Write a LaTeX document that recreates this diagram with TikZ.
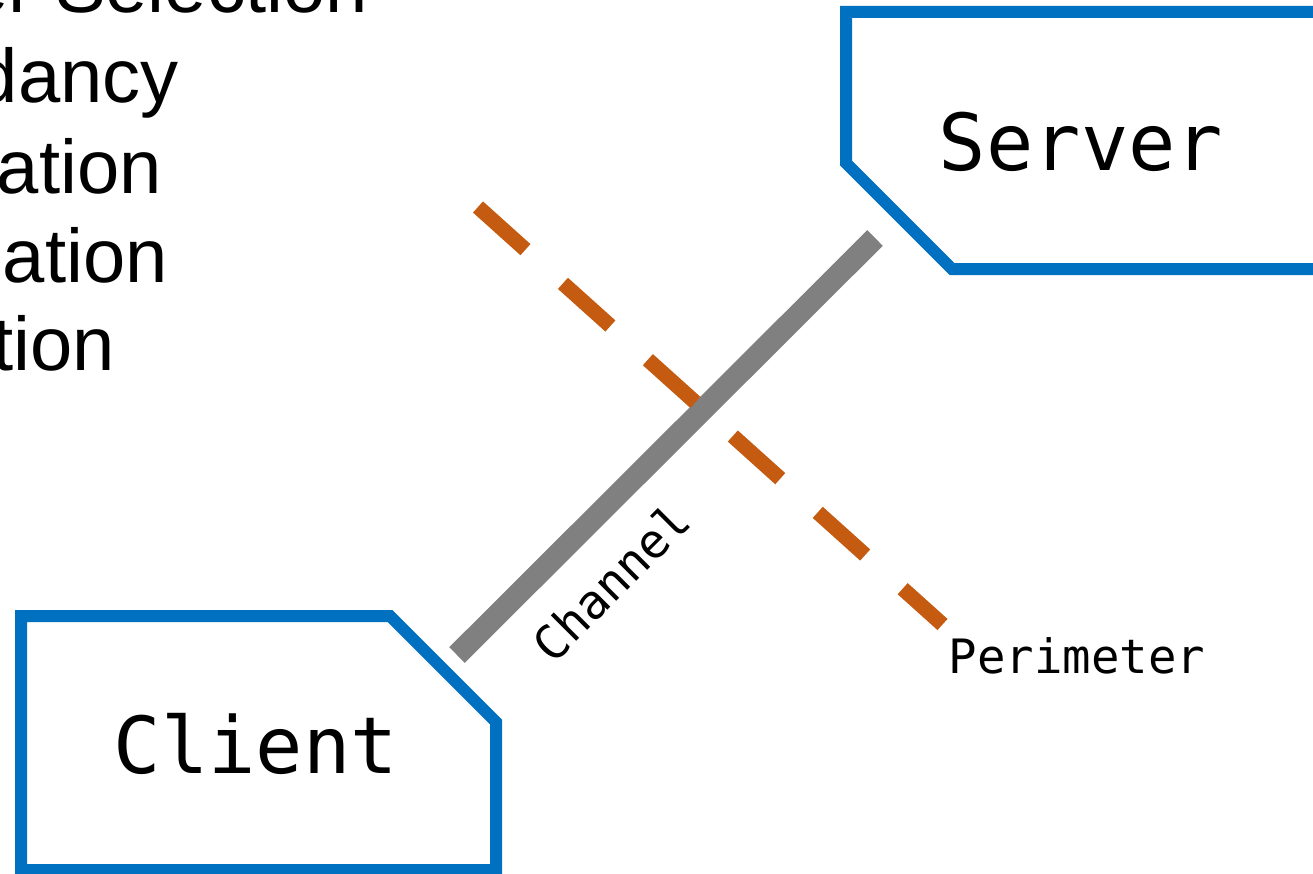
\documentclass[tikz,border=0pt]{standalone}
\usepackage{fontspec}
\setmainfont{Liberation Sans}
\newfontfamily\codefont{DejaVu Sans Mono}
\definecolor{boxblue}{HTML}{0070C0}
\definecolor{perimorange}{HTML}{C55A11}
\definecolor{changrey}{HTML}{808080}
\begin{document}
\begin{tikzpicture}[x=0.75pt,y=-0.75pt,
  endbox/.style={draw=boxblue,line width=9pt,line join=miter,fill=white},
  bigmono/.style={font=\codefont\fontsize{59pt}{60pt}\selectfont,inner sep=0pt,anchor=base},
  smallmono/.style={font=\codefont\fontsize{35.5pt}{36pt}\selectfont,inner sep=0pt},
  listtext/.style={font=\fontsize{57pt}{60pt}\selectfont,inner sep=0pt,anchor=base east},
  channel/.style={draw=changrey,line width=16.5pt},
  perimeter/.style={draw=perimorange,line width=11.25pt,dash pattern=on 47.85pt off 37.8pt}]
\useasboundingbox (0,0) rectangle (1313,874);
\clip (0,0) rectangle (1313,874);

% list of properties, running off the left edge
\node[listtext] (p1) at (368,13) {er Selection};
\node[listtext] (p2) at (179,103) {dancy};
\node[listtext] (p3) at (162,193) {ation};
\node[listtext] (p4) at (168,282) {zation};
\node[listtext] (p5) at (115,370) {tion};

% server and client end points
\draw[endbox] (1340,12) -- (846,12) -- (846,163) -- (952,269) -- (1340,269);
\draw[endbox] (21,616) -- (390,616) -- (496,722) -- (496,870) -- (21,870) -- cycle;
\node[bigmono] (server) at (1081,170) {Server};
\node[bigmono] (client) at (256,773) {Client};

% channel between them
\coordinate (chanA) at (457,655);
\coordinate (chanB) at (875,238);
\draw[channel] (chanA) -- (chanB);
\node[smallmono,rotate=45] (chanlabel) at (611,582) {Channel};

% security perimeter crossing the channel
\coordinate (perA) at (478,207);
\coordinate (perB) at (942.5,624.5);
\draw[perimeter] (perA) -- (perB);
\node[smallmono,anchor=base] (perlabel) at (1077,673) {Perimeter};
\end{tikzpicture}
\end{document}
